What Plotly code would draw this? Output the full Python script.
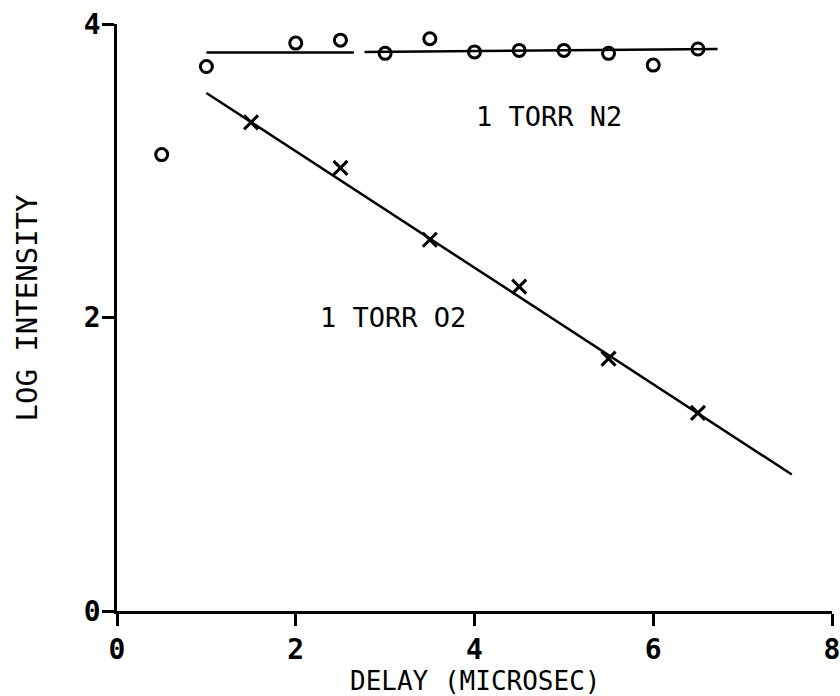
import plotly.graph_objects as go

# Measured log intensities versus delay
delay_n2 = [0.5, 1.0, 1.5, 2.0, 2.5, 3.0, 3.5, 4.0, 4.5, 5.0, 5.5, 6.0, 6.5]
logi_n2 = [3.11, 3.71, 4.01, 3.87, 3.89, 3.80, 3.90, 3.81, 3.82, 3.82, 3.80, 3.72, 3.83]

delay_o2 = [1.5, 2.5, 3.5, 4.5, 5.5, 6.5]
logi_o2 = [3.33, 3.02, 2.53, 2.21, 1.72, 1.35]

# Fitted lines (N2 drawn in two pieces)
fit_n2_a_x = [1.0, 2.65]
fit_n2_a_y = [3.805, 3.805]
fit_n2_b_x = [2.77, 6.72]
fit_n2_b_y = [3.81, 3.83]
fit_o2_x = [1.0, 7.55]
fit_o2_y = [3.53, 0.93]

x_ticks = [0, 2, 4, 6, 8]
y_ticks = [0, 2, 4]

FONT = "DejaVu Sans Mono"
INK = "black"

fig = go.Figure()

for xs, ys in [(fit_n2_a_x, fit_n2_a_y), (fit_n2_b_x, fit_n2_b_y), (fit_o2_x, fit_o2_y)]:
    fig.add_trace(go.Scatter(x=xs, y=ys, mode="lines",
                             line=dict(color=INK, width=2.5), cliponaxis=False))

fig.add_trace(go.Scatter(x=delay_n2, y=logi_n2, mode="markers", cliponaxis=False,
                         marker=dict(symbol="circle-open", size=12, color=INK,
                                     line=dict(width=3, color=INK))))
fig.add_trace(go.Scatter(x=delay_o2, y=logi_o2, mode="markers", cliponaxis=False,
                         marker=dict(symbol="x-thin-open", size=14, color=INK,
                                     line=dict(width=3, color=INK))))

fig.add_annotation(x=4.83, y=3.37, text="1 TORR N2", showarrow=False,
                   font=dict(family=FONT, size=27, color=INK))
fig.add_annotation(x=3.09, y=2.0, text="1 TORR O2", showarrow=False,
                   font=dict(family=FONT, size=27, color=INK))

fig.add_annotation(x=0.5, xref="paper", y=-0.12, yref="paper", yanchor="middle",
                   text="DELAY (MICROSEC)", showarrow=False,
                   font=dict(family=FONT, size=26, color=INK))
fig.add_annotation(x=-0.126, xref="paper", y=0.517, yref="paper", xanchor="center",
                   yanchor="middle", text="LOG INTENSITY", showarrow=False, textangle=-90,
                   font=dict(family=FONT, size=29, color=INK))

axis_common = dict(showgrid=False, zeroline=False, showline=True, linecolor=INK,
                   linewidth=2.5, ticks="outside", ticklen=12, tickwidth=2.5,
                   tickcolor=INK, ticklabeloverflow="allow", automargin=False,
                   tickfont=dict(family=FONT, size=28, color=INK, weight="bold"))

fig.update_xaxes(range=[0, 8], tickvals=x_ticks, ticktext=[str(v) for v in x_ticks],
                 **axis_common)
fig.update_yaxes(range=[0, 4], tickvals=y_ticks, ticktext=[str(v) for v in y_ticks],
                 ticklabelstandoff=-4, **axis_common)

fig.update_layout(width=840, height=696, showlegend=False,
                  margin=dict(l=117, r=8, t=24, b=85, autoexpand=False),
                  paper_bgcolor="white", plot_bgcolor="white")

fig.write_html("out.html")
